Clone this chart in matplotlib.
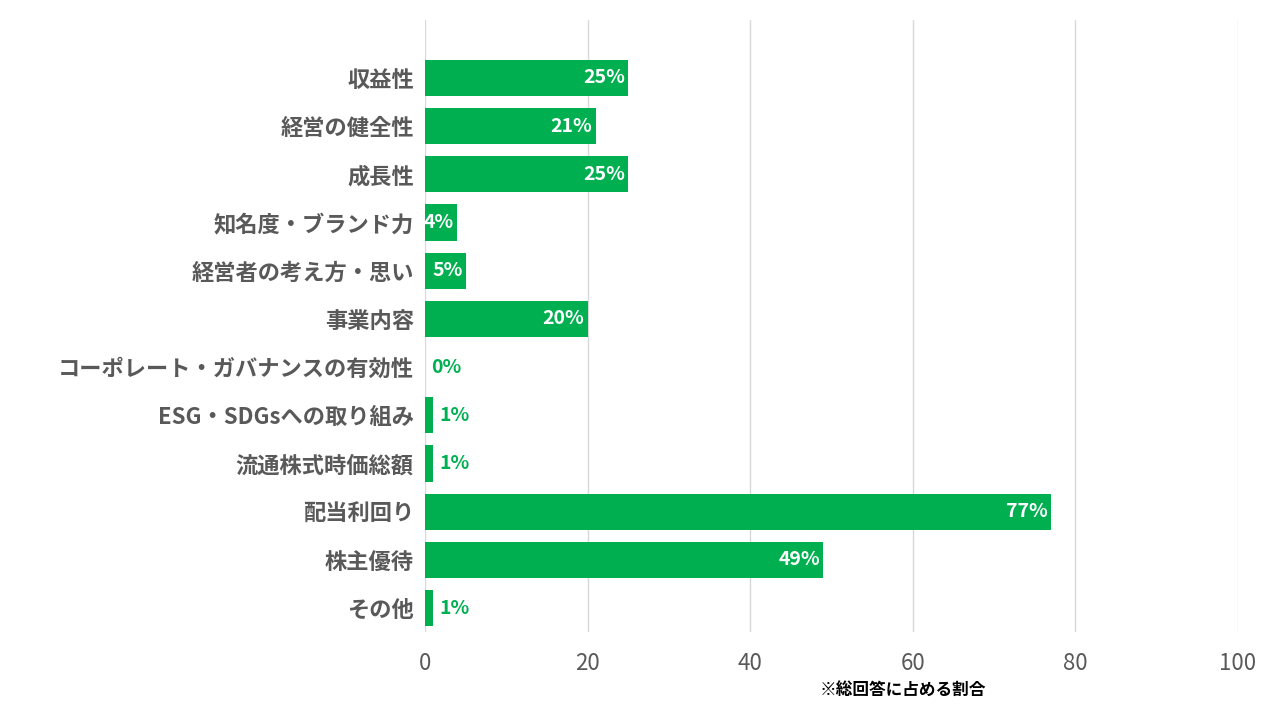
import matplotlib
matplotlib.use("Agg")
import matplotlib.pyplot as plt

categories = ["収益性","経営の健全性","成長性","知名度・ブランド力","経営者の考え方・思い","事業内容",
              "コーポレート・ガバナンスの有効性","ESG・SDGsへの取り組み","流通株式時価総額","配当利回り","株主優待","その他"]
values = [25,21,25,4,5,20,0,1,1,77,49,1]
value_labels = ["25%","21%","25%","4%","5%","20%","0%","1%","1%","77%","49%","1%"]
ticks = [0,20,40,60,80,100]

plt.rcParams["font.family"] = "Noto Sans CJK JP"
fig = plt.figure(figsize=(12.8,7.2), dpi=100)
ax = fig.add_axes([0.332,0.122,0.635,0.85])
green = "#00B050"; gray = "#595959"
y = list(range(len(categories)))
ax.barh(y, values, height=0.75, color=green, zorder=3)
for yi, v, lab in zip(y, values, value_labels):
    if v >= 4:
        ax.text(v-0.4, yi, lab, ha="right", va="center", color="white", fontsize=14, fontweight="bold", zorder=4)
    else:
        ax.text(v+0.8, yi, lab, ha="left", va="center", color=green, fontsize=14, fontweight="bold", zorder=4)
ax.set_yticks(y)
ax.set_yticklabels(categories, fontsize=16, fontweight="bold", color=gray)
ax.set_ylim(len(categories)-0.5, -1.2)
ax.set_xlim(0,100)
ax.set_xticks(ticks)
ax.set_xticklabels([str(t) for t in ticks], fontsize=16, color=gray)
ax.grid(axis="x", color="#D9D9D9", linewidth=1, zorder=0)
for s in ax.spines.values():
    s.set_visible(False)
ax.tick_params(length=0, pad=8)
ax.tick_params(axis="x", pad=14)
fig.text(0.705, 0.035, "※総回答に占める割合", fontsize=12, fontweight="bold", color="black", ha="center")
fig.savefig("out.png")
